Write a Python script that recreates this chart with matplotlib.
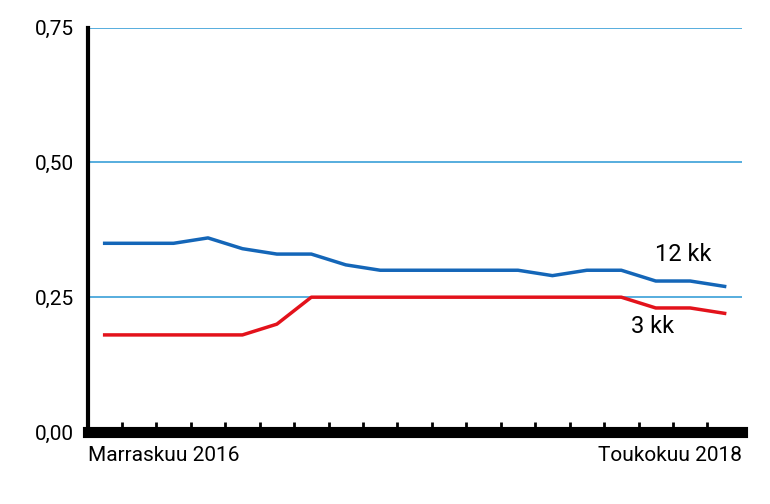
import matplotlib.pyplot as plt
import numpy as np

months = np.arange(19)
rate_12kk = [0.35, 0.35, 0.35, 0.36, 0.34, 0.33, 0.33, 0.31, 0.30, 0.30,
             0.30, 0.30, 0.30, 0.29, 0.30, 0.30, 0.28, 0.28, 0.27]
rate_3kk = [0.18, 0.18, 0.18, 0.18, 0.18, 0.20, 0.25, 0.25, 0.25, 0.25,
            0.25, 0.25, 0.25, 0.25, 0.25, 0.25, 0.23, 0.23, 0.22]
y_ticks = [0, 0.25, 0.5, 0.75]
y_labels = ['0,00', '0,25', '0,50', '0,75']

plt.rcParams['font.family'] = ['Roboto', 'DejaVu Sans']
fig = plt.figure(figsize=(7.7, 5.04), dpi=100)
ax = fig.add_axes([0.114, 0.143, 0.849, 0.802])

for y in y_ticks[1:]:
    ax.axhline(y, color='#3aa0d8', lw=1.2, zorder=1)

ax.plot(months, rate_12kk, color='#1466b8', lw=2.5, zorder=3)
ax.plot(months, rate_3kk, color='#e3121b', lw=2.5, zorder=3)

ax.set_xlim(-0.49, 18.49)
ax.set_ylim(0, 0.75)
ax.set_yticks(y_ticks)
ax.set_yticklabels(y_labels, fontsize=15)
ax.tick_params(axis='y', length=0, pad=10)
ax.set_xticks(months[:-1] + 0.5)
ax.set_xticklabels([])
ax.tick_params(axis='x', direction='in', length=7, width=2, color='black')

for s in ['top', 'right']:
    ax.spines[s].set_visible(False)
ax.spines['left'].set_linewidth(3)
ax.spines['bottom'].set_linewidth(8)

ax.text(16.8, 0.33, '12 kk', fontsize=17, ha='center', va='center')
ax.text(15.9, 0.195, '3 kk', fontsize=17, ha='center', va='center')

ax.text(0, -0.035, 'Marraskuu 2016', transform=ax.transAxes, ha='left', va='top', fontsize=15)
ax.text(1, -0.035, 'Toukokuu 2018', transform=ax.transAxes, ha='right', va='top', fontsize=15)

fig.savefig('out.png', dpi=100)
